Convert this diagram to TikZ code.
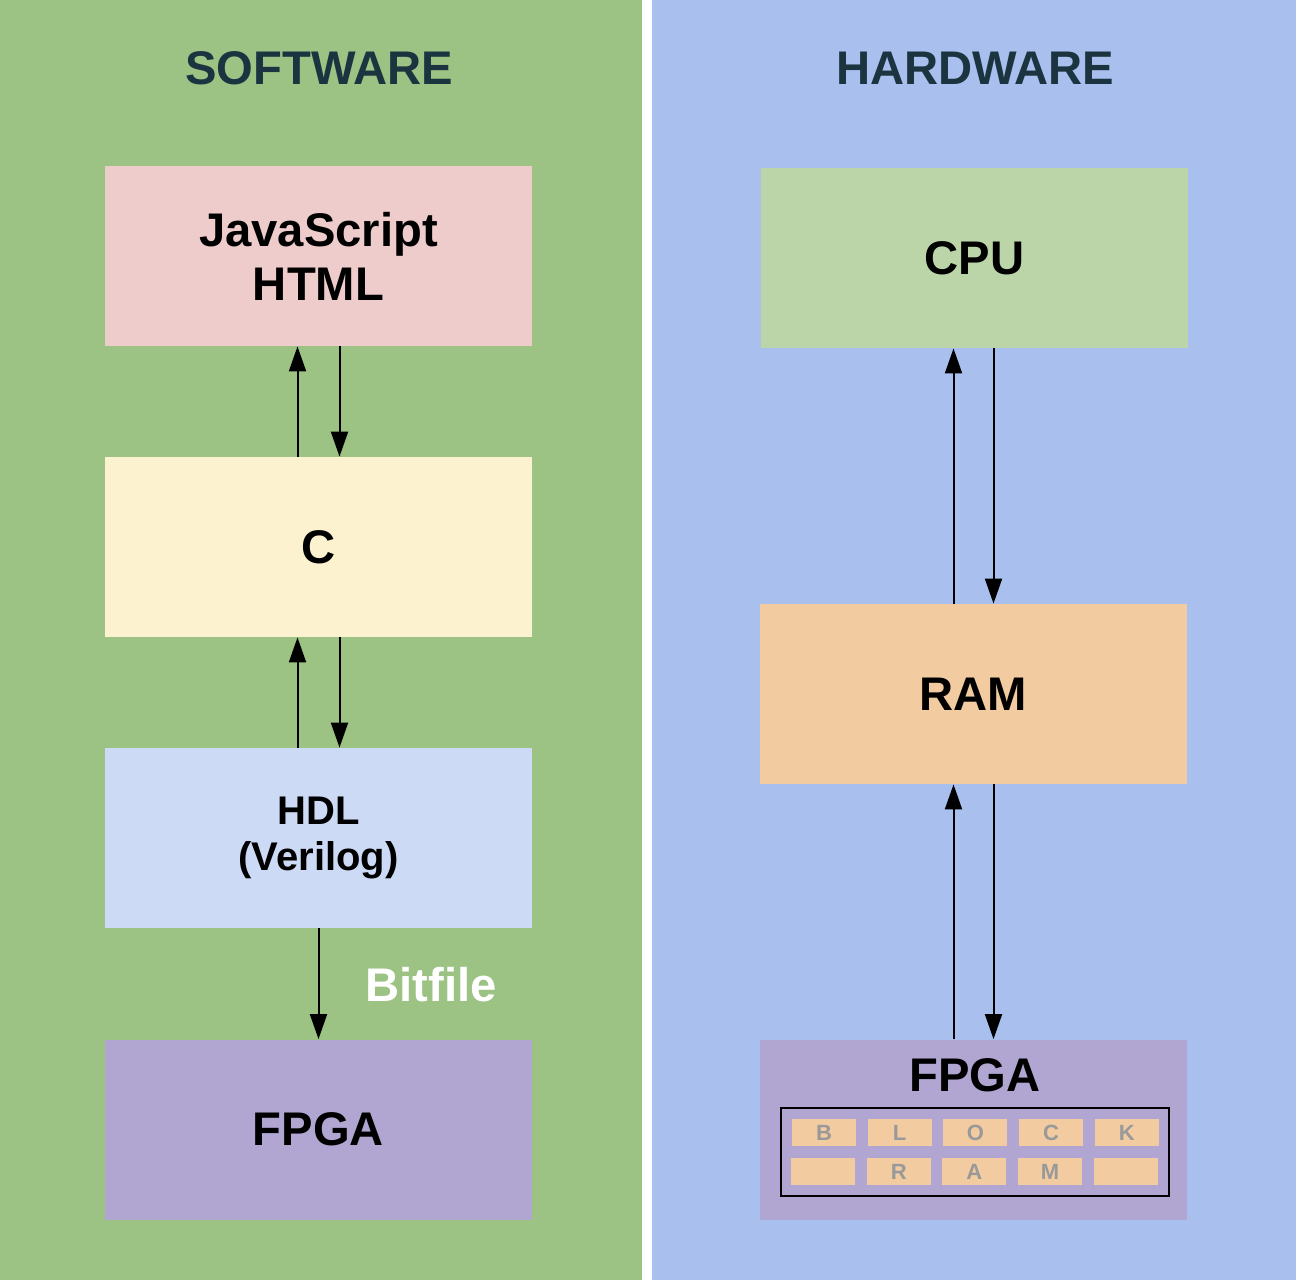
\documentclass[tikz,border=0pt]{standalone}
\usepackage{fontspec}
\setmainfont{Liberation Sans}
\usetikzlibrary{calc,positioning,arrows.meta}
\definecolor{swgreen}{HTML}{9DC384}
\definecolor{hwblue}{HTML}{A9BFEE}
\definecolor{jspink}{HTML}{EECCCC}
\definecolor{cyellow}{HTML}{FCF2D0}
\definecolor{hdlblue}{HTML}{CCDAF5}
\definecolor{fpgapurple}{HTML}{B1A6D1}
\definecolor{cpugreen}{HTML}{BBD5A9}
\definecolor{ramorange}{HTML}{F2CBA1}
\definecolor{titleteal}{HTML}{1B3440}
\begin{document}
\begin{tikzpicture}[x=0.5pt, y=-0.5pt]
\tikzstyle{blk}=[rectangle, inner sep=0pt, minimum width=213.5pt, minimum height=90pt,
                 align=center, font=\fontsize{23.6}{27}\selectfont\bfseries]
\tikzstyle{ttl}=[font=\fontsize{23.6}{27}\selectfont\bfseries, text=titleteal]
\tikzstyle{cell}=[rectangle, fill=ramorange, inner sep=0pt, minimum width=32pt,
                  minimum height=13.5pt, text=black!40, font=\fontsize{11}{12}\selectfont\bfseries]
\tikzstyle{arr}=[line width=1pt, -{Triangle[length=12.5pt,width=8.5pt]}]
\useasboundingbox (0,0) rectangle (1296,1280);
% panels
\fill[swgreen] (0,0) rectangle (642,1280);
\fill[hwblue] (652,0) rectangle (1296,1280);
\node[ttl] (sw) at (319,68) {SOFTWARE};
\node[ttl] (hw) at (975,68) {HARDWARE};
% software side
\node[blk, fill=jspink] (JS) at (318.5,256) {JavaScript\\HTML};
\node[blk, fill=cyellow] (C) at (318.5,547) {C};
\node[blk, fill=hdlblue, font=\fontsize{20}{23}\selectfont\bfseries] (HDL) at (318.5,838) {HDL\\(Verilog)};
\node[blk, fill=fpgapurple] (FS) at (318.5,1129.5) {FPGA};
\draw[arr] ([xshift=-10.5pt]C.north) -- ([xshift=-10.5pt]JS.south);
\draw[arr] ([xshift=10.5pt]JS.south) -- ([xshift=10.5pt]C.north);
\draw[arr] ([xshift=-10.5pt]HDL.north) -- ([xshift=-10.5pt]C.south);
\draw[arr] ([xshift=10.5pt]C.south) -- ([xshift=10.5pt]HDL.north);
\draw[arr] (HDL.south) -- (FS.north);
\node[font=\fontsize{23.6}{27}\selectfont\bfseries, text=white] (bit) at (431,985) {Bitfile};
% hardware side
\node[blk, fill=cpugreen] (CPU) at (974.5,258) {CPU};
\node[blk, fill=ramorange] (RAM) at (973.5,694) {RAM};
\node[blk, fill=fpgapurple] (FH) at (973.5,1129.5) {};
\node[font=\fontsize{23.6}{27}\selectfont\bfseries] (fl) at (975,1075) {FPGA};
\draw[arr] ([xshift=-10pt]RAM.north) -- ([xshift=-10pt]RAM.north |- CPU.south);
\draw[arr] ([xshift=10pt]RAM.north |- CPU.south) -- ([xshift=10pt]RAM.north);
\draw[arr] ([xshift=-10pt]FH.north) -- ([xshift=-10pt]FH.north |- RAM.south);
\draw[arr] ([xshift=10pt]FH.north |- RAM.south) -- ([xshift=10pt]FH.north);
\node[draw, line width=1pt, inner sep=0pt, minimum width=194pt, minimum height=44pt] (bram) at (975,1152) {};
\foreach \l [count=\i from 0] in {B,L,O,C,K}{\node[cell] (t\i) at (824+75.7*\i,1132.5) {\l};}
\foreach \l [count=\i from 0] in {{},R,A,M,{}}{\node[cell] (b\i) at (823+75.7*\i,1171.5) {\l};}
\end{tikzpicture}
\end{document}
